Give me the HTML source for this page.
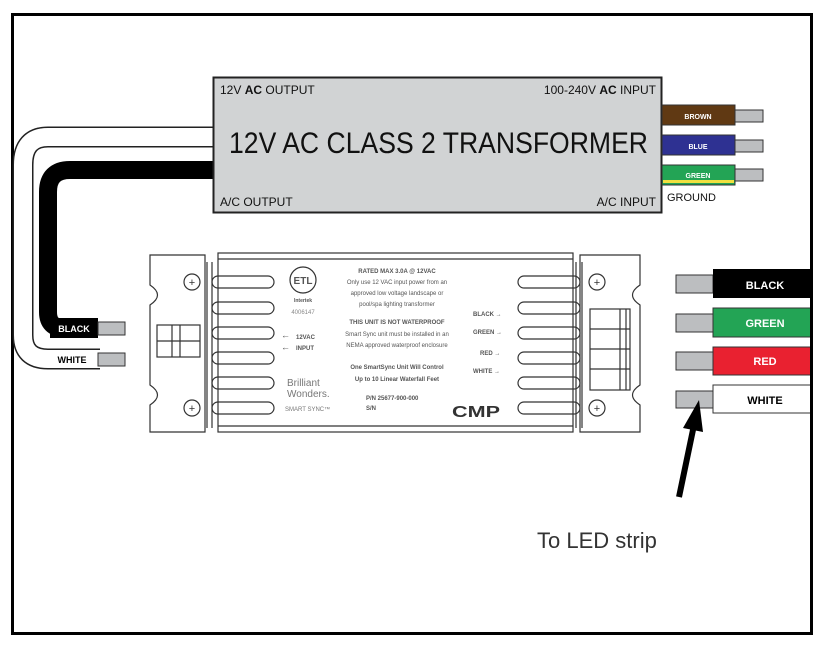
<!DOCTYPE html>
<html><head><meta charset="utf-8"><style>
html,body{margin:0;padding:0;background:#fff}
svg{display:block}
text{font-family:"Liberation Sans",sans-serif}
</style></head><body>
<svg width="822" height="650" viewBox="0 0 822 650" xmlns="http://www.w3.org/2000/svg">
<rect x="12.5" y="14.5" width="799" height="619" fill="#fff" stroke="#000" stroke-width="3"/>

<!-- white cable -->
<path d="M215 137 H48 Q23 137 23 165 V335 Q23 359 48 359 H100" fill="none" stroke="#222" stroke-width="21"/>
<path d="M215 137 H48 Q23 137 23 165 V335 Q23 359 48 359 H100" fill="none" stroke="#fff" stroke-width="18"/>
<!-- black cable -->
<path d="M215 170 H70 Q48 170 48 192 V312 Q48 328 64 328 H98" fill="none" stroke="#000" stroke-width="18"/>
<rect x="50" y="318" width="48" height="20" fill="#000"/>
<text x="74" y="332" font-size="9" font-weight="bold" fill="#fff" text-anchor="middle">BLACK</text>
<rect x="98" y="322" width="27" height="13" fill="#bcbec0" stroke="#333" stroke-width="1"/>
<rect x="50" y="350" width="48" height="18" fill="#fff"/>
<text x="72" y="363" font-size="9" font-weight="bold" fill="#000" text-anchor="middle">WHITE</text>
<rect x="98" y="353" width="27" height="13" fill="#bcbec0" stroke="#333" stroke-width="1"/>

<!-- transformer -->
<rect x="213.5" y="77.5" width="448" height="135" fill="#d1d3d4" stroke="#222" stroke-width="2"/>
<text x="220" y="94" font-size="12" fill="#111">12V <tspan font-weight="bold">AC</tspan> OUTPUT</text>
<text x="656" y="94" font-size="12" fill="#111" text-anchor="end">100-240V <tspan font-weight="bold">AC</tspan> INPUT</text>
<text x="220" y="206" font-size="12" fill="#111">A/C OUTPUT</text>
<text x="656" y="206" font-size="12" fill="#111" text-anchor="end">A/C INPUT</text>
<text x="229" y="153" font-size="30" fill="#111" textLength="419" lengthAdjust="spacingAndGlyphs">12V AC CLASS 2 TRANSFORMER</text>

<!-- input wires -->
<rect x="662" y="105" width="73" height="20" fill="#603913" stroke="#333"/>
<text x="698" y="119" font-size="7" font-weight="bold" fill="#fff" text-anchor="middle">BROWN</text>
<rect x="735" y="110" width="28" height="12" fill="#bcbec0" stroke="#333"/>
<rect x="662" y="135" width="73" height="20" fill="#2e3192" stroke="#333"/>
<text x="698" y="149" font-size="7" font-weight="bold" fill="#fff" text-anchor="middle">BLUE</text>
<rect x="735" y="140" width="28" height="12" fill="#bcbec0" stroke="#333"/>
<rect x="662" y="165" width="73" height="20" fill="#23a455" stroke="#333"/>
<rect x="663" y="180" width="71" height="3" fill="#f0e040"/>
<text x="698" y="178" font-size="7" font-weight="bold" fill="#fff" text-anchor="middle">GREEN</text>
<rect x="735" y="169" width="28" height="12" fill="#bcbec0" stroke="#333"/>
<text x="667" y="201" font-size="11" fill="#111">GROUND</text>

<!-- Smart sync device -->
<g fill="none" stroke="#333" stroke-width="1.2">
<path d="M150 255 H205 V432 H150 V405 Q165 395 150 385 V305 Q165 295 150 285 Z" fill="#fff"/>
<path d="M640 255 H580 V432 H640 V405 Q625 395 640 385 V305 Q625 295 640 285 Z" fill="#fff"/>
<rect x="218" y="253" width="355" height="179" fill="#fff"/>
<line x1="207" y1="262" x2="207" y2="428"/><line x1="212" y1="262" x2="212" y2="428"/>
<line x1="576" y1="262" x2="576" y2="428"/><line x1="582" y1="262" x2="582" y2="428"/>
<line x1="218" y1="259" x2="573" y2="259"/><line x1="218" y1="426" x2="573" y2="426"/>
<circle cx="192" cy="282" r="8"/><circle cx="192" cy="408" r="8"/>
<circle cx="597" cy="282" r="8"/><circle cx="597" cy="408" r="8"/>
<rect x="212" y="276" width="62" height="12" rx="6"/>
<rect x="212" y="302" width="62" height="12" rx="6"/>
<rect x="212" y="327" width="62" height="12" rx="6"/>
<rect x="212" y="352" width="62" height="12" rx="6"/>
<rect x="212" y="377" width="62" height="12" rx="6"/>
<rect x="212" y="402" width="62" height="12" rx="6"/>
<rect x="518" y="276" width="62" height="12" rx="6"/>
<rect x="518" y="302" width="62" height="12" rx="6"/>
<rect x="518" y="327" width="62" height="12" rx="6"/>
<rect x="518" y="352" width="62" height="12" rx="6"/>
<rect x="518" y="377" width="62" height="12" rx="6"/>
<rect x="518" y="402" width="62" height="12" rx="6"/>
<rect x="157" y="325" width="43" height="32" fill="#fff"/>
<line x1="157" y1="341" x2="200" y2="341"/><line x1="172" y1="325" x2="172" y2="357"/><line x1="180" y1="325" x2="180" y2="357"/>
<rect x="590" y="309" width="40" height="81" fill="#fff"/>
<line x1="590" y1="329" x2="630" y2="329"/><line x1="590" y1="349" x2="630" y2="349"/><line x1="590" y1="369" x2="630" y2="369"/>
<line x1="620" y1="309" x2="620" y2="390"/><line x1="626" y1="309" x2="626" y2="390"/>
<circle cx="303" cy="280" r="13"/>
</g>
<g fill="#333" font-size="11" text-anchor="middle"><text x="192" y="286">+</text><text x="192" y="412">+</text><text x="597" y="286">+</text><text x="597" y="412">+</text></g>
<text x="303" y="284" font-size="10" font-weight="bold" fill="#555" text-anchor="middle">ETL</text>
<text x="303" y="302" font-size="5" font-weight="bold" fill="#555" text-anchor="middle">Intertek</text>
<text x="303" y="314" font-size="6" fill="#888" text-anchor="middle">4006147</text>
<g font-size="6" fill="#555" text-anchor="middle">
<text x="397" y="273" font-weight="bold">RATED MAX 3.0A @ 12VAC</text>
<text x="397" y="284">Only use 12 VAC input power from an</text>
<text x="397" y="295">approved low voltage landscape or</text>
<text x="397" y="306">pool/spa lighting transformer</text>
<text x="397" y="324" font-weight="bold">THIS UNIT IS NOT WATERPROOF</text>
<text x="397" y="336">Smart Sync unit must be installed in an</text>
<text x="397" y="347">NEMA approved waterproof enclosure</text>
<text x="397" y="369" font-weight="bold">One SmartSync Unit Will Control</text>
<text x="397" y="381" font-weight="bold">Up to 10 Linear Waterfall Feet</text>
</g>
<g font-size="6" fill="#555" font-weight="bold">
<text x="366" y="400">P/N 25677-900-000</text>
<text x="366" y="410">S/N</text>
<text x="296" y="339">12VAC</text><text x="296" y="350">INPUT</text>
<text x="473" y="316">BLACK →</text><text x="473" y="334">GREEN →</text>
<text x="480" y="355">RED →</text><text x="473" y="373">WHITE →</text>
</g>
<text x="281" y="338" font-size="9" fill="#555">←</text><text x="281" y="350" font-size="9" fill="#555">←</text>
<text x="287" y="386" font-size="10" fill="#777">Brilliant</text>
<text x="287" y="397" font-size="10" fill="#777">Wonders.</text>
<text x="285" y="411" font-size="6" fill="#777">SMART SYNC™</text>
<text x="452" y="417" font-size="16" font-weight="bold" fill="#333" textLength="48" lengthAdjust="spacingAndGlyphs">CMP</text>

<!-- output wires -->
<rect x="676" y="275" width="37" height="18" fill="#bcbec0" stroke="#333"/>
<rect x="713" y="269" width="99" height="29" fill="#000"/>
<text x="765" y="289" font-size="11" font-weight="bold" fill="#fff" text-anchor="middle">BLACK</text>
<rect x="676" y="314" width="37" height="18" fill="#bcbec0" stroke="#333"/>
<rect x="713" y="308" width="99" height="29" fill="#23a455" stroke="#333"/>
<text x="765" y="327" font-size="11" font-weight="bold" fill="#fff" text-anchor="middle">GREEN</text>
<rect x="676" y="352" width="37" height="18" fill="#bcbec0" stroke="#333"/>
<rect x="713" y="347" width="99" height="28" fill="#e92130" stroke="#333"/>
<text x="765" y="365" font-size="11" font-weight="bold" fill="#fff" text-anchor="middle">RED</text>
<rect x="676" y="391" width="37" height="17" fill="#bcbec0" stroke="#333"/>
<rect x="713" y="385" width="99" height="28" fill="#fff" stroke="#333"/>
<text x="765" y="404" font-size="11" font-weight="bold" fill="#000" text-anchor="middle">WHITE</text>
<rect x="810" y="14" width="3" height="620" fill="#000"/>

<!-- arrow -->
<line x1="679" y1="497" x2="694" y2="425" stroke="#000" stroke-width="6"/>
<polygon points="699,400 683,428 703,432" fill="#000"/>
<text x="537" y="548" font-size="22" fill="#333">To LED strip</text>
</svg>
</body></html>
